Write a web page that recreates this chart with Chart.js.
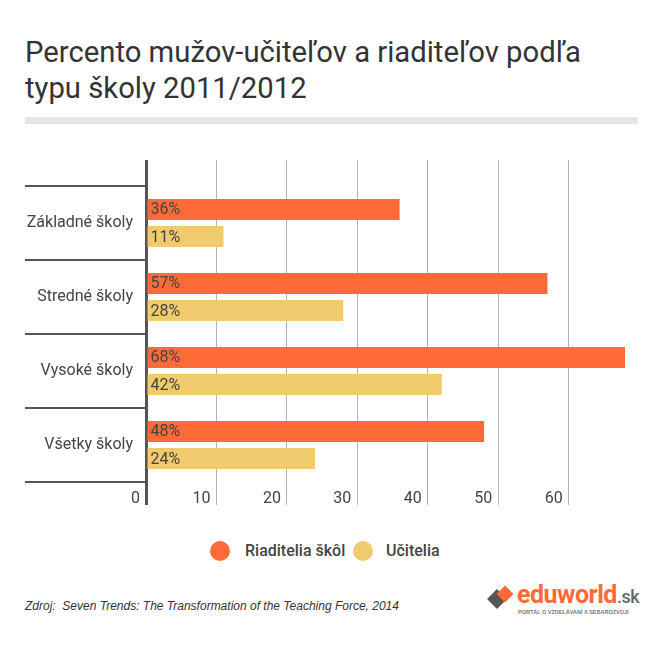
<!DOCTYPE html>
<html>
<head>
<meta charset="utf-8">
<script src="https://cdn.jsdelivr.net/npm/chart.js@4"></script>
<style>
  body { margin: 0; width: 667px; height: 649px; background: #fff; position: relative; overflow: hidden; font-family: Roboto, sans-serif; }
  #title { position: absolute; left: 25px; top: 34px; font-size: 30px; line-height: 36px; color: #333; font-weight: 400; transform: scaleX(0.975); transform-origin: left top; white-space: nowrap; }
  #rule { position: absolute; left: 25px; top: 117px; width: 613px; height: 7px; background: #e6e6e6; }
  #wrap { position: absolute; left: 0; top: 130px; width: 667px; height: 390px; }
  .leg { position: absolute; top: 541px; font-size: 16px; font-weight: 500; color: #444; line-height: 20px; }
  .dot { position: absolute; top: 541px; width: 20px; height: 20px; border-radius: 50%; }
  #src { position: absolute; left: 25px; top: 599px; font: italic 12px Arial, "Liberation Sans", sans-serif; color: #333; }
  #logo { position: absolute; left: 487px; top: 584px; }
</style>
</head>
<body>
<div id="title">Percento mužov-učiteľov a riaditeľov podľa<br>typu školy 2011/2012</div>
<div id="rule"></div>
<div id="wrap"><canvas id="chart" width="667" height="390"></canvas></div>

<div class="dot" style="left:210px;background:#ff6a39"></div>
<div class="leg" style="left:245px">Riaditelia škôl</div>
<div class="dot" style="left:353px;background:#f0ca6c"></div>
<div class="leg" style="left:386px">Učitelia</div>

<div id="src">Zdroj:&nbsp; Seven Trends: The Transformation of the Teaching Force, 2014</div>
<div id="logo">
  <div style="position:absolute;left:3px;top:8px;width:14px;height:14px;background:#555;transform:rotate(45deg)"></div>
  <div style="position:absolute;left:12px;top:4px;width:12px;height:12px;background:#ff6a39;transform:rotate(45deg)"></div>
  <div style="position:absolute;left:30px;top:-4px;font:bold 25px Roboto, sans-serif;color:#ff6a39;letter-spacing:-0.5px;white-space:nowrap">eduworld<span style="color:#666;font-weight:500;font-size:18px">.sk</span></div>
  <div style="position:absolute;left:31px;top:25px;font:bold 5.5px Arial, sans-serif;color:#777;white-space:nowrap">PORTÁL O VZDELÁVANÍ A SEBAROZVOJI</div>
</div>

<script>
var categories = ['Základné školy', 'Stredné školy', 'Vysoké školy', 'Všetky školy'];
var riaditelia = [36, 57, 68, 48];
var ucitelia = [11, 28, 42, 24];
var seriesNames = ['Riaditelia škôl', 'Učitelia'];
var axisMax = 68;

// percent labels drawn at the start of each bar
var barLabels = {
    id: 'barLabels',
    afterDatasetsDraw: function (chart) {
        var ctx = chart.ctx;
        ctx.save();
        ctx.font = '16px Roboto';
        ctx.fillStyle = '#444';
        ctx.textBaseline = 'middle';
        ctx.textAlign = 'left';
        chart.data.datasets.forEach(function (ds, i) {
            chart.getDatasetMeta(i).data.forEach(function (bar, j) {
                ctx.fillText(ds.data[j] + '%', bar.base + 3, bar.y + 1);
            });
        });
        ctx.restore();
    }
};

var gridWidth = function (c) { return c.tick && c.tick.value === 0 ? 3 : 1; };
var gridColor = function (c) { return c.tick && c.tick.value === 0 ? '#555' : '#b4b4b4'; };

var chart = new Chart(document.getElementById('chart'), {
    type: 'bar',
    data: {
        labels: categories,
        datasets: [
            {
                label: seriesNames[0],
                data: riaditelia,
                backgroundColor: '#ff6a39',
                xAxisID: 'x',
            },
            {
                label: seriesNames[1],
                data: ucitelia,
                backgroundColor: '#f0ca6c',
                xAxisID: 'x',
            }
        ]
    },
    options: {
        indexAxis: 'y',
        responsive: false,
        animation: false,
        categoryPercentage: 0.73,
        barPercentage: 0.78,
        layout: {
            padding: { left: 25, right: 42, top: 30, bottom: 0 }
        },
        scales: {
            x: {
                position: 'bottom',
                min: 0,
                max: axisMax,
                border: { display: false },
                grid: {
                    color: gridColor,
                    lineWidth: gridWidth,
                    tickLength: 23,
                    tickColor: gridColor,
                    tickWidth: gridWidth,
                },
                ticks: {
                    stepSize: 10,
                    includeBounds: false,
                    align: 'end',
                    labelOffset: -6,
                    padding: -16,
                    color: '#444',
                    font: { family: 'Roboto', size: 16 },
                },
                afterFit: function (s) { s.height = 38; }
            },
            x2: {
                position: 'top',
                min: 0,
                max: axisMax,
                border: { display: false },
                grid: {
                    drawOnChartArea: false,
                    color: gridColor,
                    lineWidth: gridWidth,
                    tickLength: 26,
                    tickColor: gridColor,
                    tickWidth: gridWidth,
                },
                ticks: { display: false, stepSize: 10, includeBounds: false },
                afterFit: function (s) { s.height = 26; }
            },
            y: {
                border: { display: false },
                grid: {
                    offset: true,
                    drawOnChartArea: false,
                    tickLength: 121,
                    color: '#555',
                    lineWidth: 2,
                },
                ticks: {
                    padding: -108,
                    color: '#444',
                    font: { family: 'Roboto', size: 16 },
                },
                afterFit: function (s) { s.width = 121; }
            }
        },
        plugins: {
            legend: { display: false },
            tooltip: { enabled: false },
            title: { display: false }
        }
    },
    plugins: [barLabels]
});
</script>
</body>
</html>
